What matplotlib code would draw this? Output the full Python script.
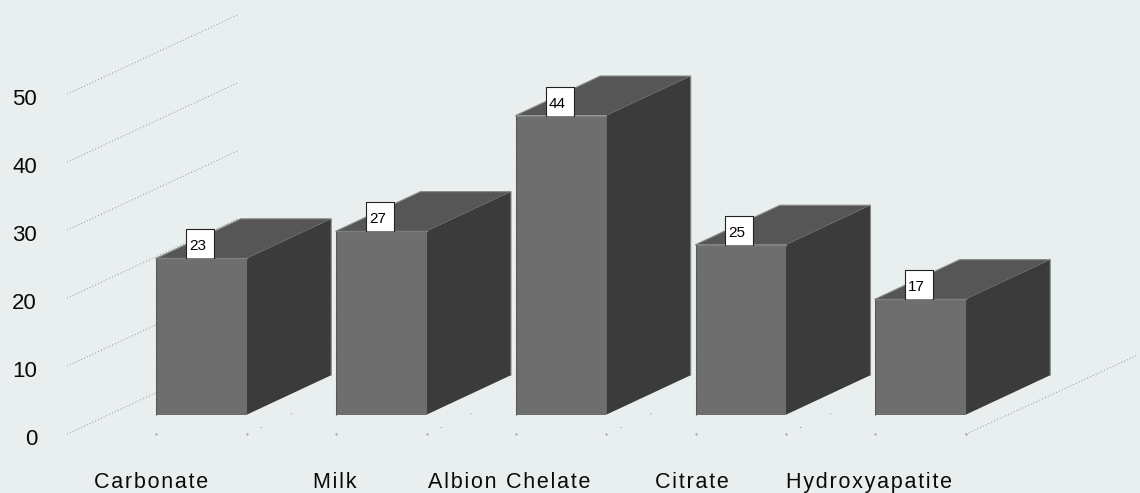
"""Fake-3D bar chart of calcium sources, drawn with polygons on a flat axes."""

import matplotlib
matplotlib.use("Agg")
import matplotlib.pyplot as plt
from matplotlib.patches import Polygon, Rectangle

categories = ["Carbonate", "Milk", "Albion Chelate", "Citrate", "Hydroxyapatite"]
values = [23, 27, 44, 25, 17]
y_ticks = [0, 10, 20, 30, 40, 50]

BG = "#E9EFEF"
FRONT = "#6E6E6E"
TOP = "#565656"
SIDE = "#3B3B3B"
GRID = "#8E9292"

W, H = 1140, 493
PX_X = 179.75  # pixels per category
PX_Y = 6.8     # pixels per value unit
X0 = 201.5     # pixel of first bar centre
Y0 = 434.2     # pixel of value 0

# label centres sit left of the bars, and not quite evenly
label_shift = [-50.5, -46.5, -51.5, -48.5, -51]


def sx(px):
    return px / PX_X


def sy(px):
    return px / PX_Y


plt.rcParams["font.family"] = ["Liberation Sans", "DejaVu Sans"]
fig = plt.figure(figsize=(W / 100, H / 100), dpi=100, facecolor=BG)
ax = fig.add_axes([0, 0, 1, 1])
ax.set_xlim(-sx(X0), sx(W - X0))
ax.set_ylim(-sy(H - Y0), sy(Y0))
ax.axis("off")

bar_w = sx(90.5)
base = sy(19.5)
depth_x, depth_y = sx(84.5), sy(39.5)
grid_dx, grid_dy = sx(172), sy(80)
left = sx(67 - X0)

# back wall lines and tick labels
for t in y_ticks:
    ax.plot([left, left + grid_dx], [t, t + grid_dy], color=GRID, lw=0.7,
            ls=(0, (1, 2.2)), zorder=1)
    ax.text(sx(37 - X0), t - sy(5.5), str(t), fontsize=16, ha="right",
            va="center", color="#0A0A0A")

# floor ticks under the bars, and the floor line on the right
for i in range(len(categories)):
    for edge in (-bar_w / 2, bar_w / 2):
        ax.plot([i + edge], [0], ".", ms=1.0, color=GRID, zorder=1)
    if i < len(categories) - 1:
        ax.plot([i + bar_w / 2, i + bar_w / 2 + sx(74)], [0, sy(34)], color=GRID,
                lw=0.7, ls=(18, (1, 33)), zorder=1)
last = len(categories) - 1 + bar_w / 2
ax.plot([last, last + grid_dx * 0.99], [0, grid_dy * 0.98], color=GRID, lw=0.7,
        ls=(0, (1, 2.2)), zorder=1)

for i, (name, v) in enumerate(zip(categories, values)):
    x1, x2 = i - bar_w / 2, i + bar_w / 2
    y1, y2 = base, base + v
    ax.add_patch(Polygon([(x2, y1), (x2 + depth_x, y1 + depth_y),
                          (x2 + depth_x, y2 + depth_y), (x2, y2)],
                         fc=SIDE, ec="none", zorder=2))
    ax.add_patch(Polygon([(x1, y2), (x1 + depth_x, y2 + depth_y),
                          (x2 + depth_x, y2 + depth_y), (x2, y2)],
                         fc=TOP, ec="none", zorder=2))
    ax.add_patch(Rectangle((x1, y1), bar_w, y2 - y1, fc=FRONT, ec="none", zorder=3))
    # lighter rim along the top edges, dotted dark left edge
    ax.plot([x1, x1 + depth_x, x2 + depth_x, x2 + depth_x],
            [y2, y2 + depth_y, y2 + depth_y, y1 + depth_y],
            color="#8A8A8A", lw=0.8, zorder=4)
    ax.plot([x1, x2], [y2, y2], color="#7E7E7E", lw=1.0, zorder=4)
    ax.plot([x1, x1], [y1, y2], color="#444444", lw=0.8, ls=(0, (1, 1)), zorder=4)

    # value flag
    bx1, bx2 = i - sx(15.5), i + sx(12.5)
    by2 = y2 + sy(29)
    ax.add_patch(Rectangle((bx1, y2), bx2 - bx1, by2 - y2, fc="white", ec="none", zorder=5))
    ax.plot([bx1, bx1, bx2, bx2], [y2, by2, by2, y2], color="#222222", lw=0.8, zorder=6)
    ax.text(bx1 + sx(3), y2 + sy(12), str(v), fontsize=11, ha="left", va="center",
            color="black", zorder=7)

    # category label, letters spaced out with hair spaces
    ax.text(i + sx(label_shift[i]), -sy(48.5), "\u200a".join(name), fontsize=15.5,
            ha="center", va="center", color="#0A0A0A")

fig.savefig("out.png", dpi=100, facecolor=BG)
plt.close(fig)
